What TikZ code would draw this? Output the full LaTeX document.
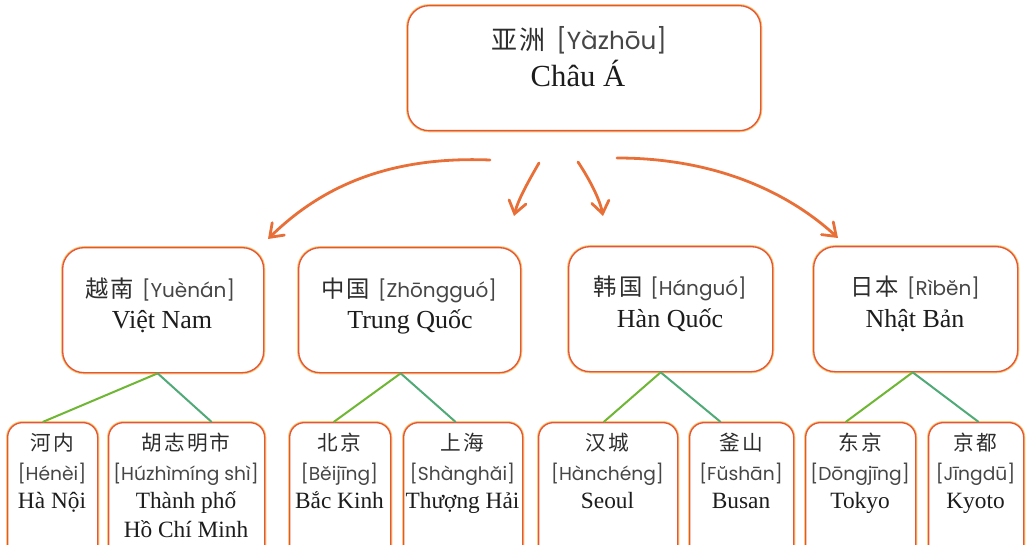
\documentclass[tikz,border=0pt]{standalone}
\usepackage{fontspec}
\setmainfont{Liberation Serif}
\newfontfamily\cjk[LetterSpace=10]{Noto Sans CJK SC}
\newfontfamily\pin{Poppins}
\usetikzlibrary{arrows.meta,calc}
\definecolor{boxline}{RGB}{226,86,58}
\definecolor{boxglow}{RGB}{252,200,110}
\definecolor{arrowc}{RGB}{232,112,56}
\definecolor{lgreen}{RGB}{110,182,52}
\definecolor{lteal}{RGB}{80,170,120}
\definecolor{txt}{RGB}{28,28,28}
\definecolor{zhcol}{RGB}{45,45,45}
\definecolor{pincol}{RGB}{70,70,70}
\newcommand\mybox[6]{\node[#6, minimum width=#4*0.75pt, minimum height=#5*0.75pt] (#1) at (#2,#3) {};}
\newcommand\ZhA[1]{{\color{zhcol}\cjk\fontsize{19.5}{23}\selectfont #1}}
\newcommand\PyA[1]{{\color{pincol}\pin\fontsize{18.5}{22}\selectfont #1}}
\newcommand\ZhB[1]{{\color{zhcol}\cjk\fontsize{17.5}{21}\selectfont #1}}
\newcommand\PyB[1]{{\color{pincol}\pin\fontsize{15}{18}\selectfont #1}}
\newcommand\ZhC[1]{{\color{zhcol}\cjk\fontsize{15.5}{19}\selectfont #1}}
\newcommand\PyC[1]{{\color{pincol}\pin\fontsize{14}{17}\selectfont #1}}
\begin{document}
\begin{tikzpicture}[x=0.75pt,y=-0.75pt,
  boxbase/.style={draw=boxline, line width=1pt, fill=white, inner sep=0pt, anchor=north west,
    preaction={draw=boxglow, line width=2.4pt}},
  bigbox/.style={boxbase, rounded corners=16pt},
  smallbox/.style={boxbase, rounded corners=11pt},
  lbl/.style={anchor=base, inner sep=0pt, text=txt},
  vnA/.style={lbl, font=\fontsize{23}{27}\selectfont},
  vnB/.style={lbl, font=\fontsize{19.5}{23}\selectfont},
  vnC/.style={lbl, font=\fontsize{17.5}{21}\selectfont},
  arr/.style={draw=arrowc, line width=2.1pt, line cap=round,
    -{Straight Barb[length=9pt,width=13pt,line cap=round]}},
  gl/.style={draw=lgreen, line width=1.5pt},
  tl/.style={draw=lteal, line width=1.5pt}]
\useasboundingbox (0,0) rectangle (1028,545);
\clip (0,0) rectangle (1028,545);
\fill[white] (0,0) rectangle (1028,545);

% boxes
\mybox{asia}{407}{5}{353}{125}{bigbox}
\mybox{vn}{62}{247}{201}{125}{bigbox}
\mybox{cn}{298}{247}{222}{125}{bigbox}
\mybox{kr}{568}{246}{204}{125}{bigbox}
\mybox{jp}{813}{246}{204}{125}{bigbox}
\mybox{hn}{7}{422}{90}{140}{smallbox}
\mybox{hcm}{108}{422}{156}{140}{smallbox}
\mybox{bj}{289}{422}{101}{140}{smallbox}
\mybox{sh}{403}{422}{119}{140}{smallbox}
\mybox{se}{538}{422}{139}{140}{smallbox}
\mybox{bs}{689}{422}{104}{140}{smallbox}
\mybox{tk}{805}{422}{110}{140}{smallbox}
\mybox{ky}{928}{422}{95}{140}{smallbox}

% top texts
\node[lbl] (asiaZ) at (579,50) {\ZhA{亚洲}\hspace{8pt}\PyA{[Yàzhōu]}};
\node[vnA] (asiaV) at (578,87) {Châu Á};

% country texts
\node[lbl] (vnZ) at (160,297) {\ZhB{越南}\hspace{6pt}\PyB{[Yuènán]}};
\node[vnB] (vnV) at (162,329) {Việt Nam};
\node[lbl] (cnZ) at (409,297) {\ZhB{中国}\hspace{6pt}\PyB{[Zhōngguó]}};
\node[vnB] (cnV) at (410,329) {Trung Quốc};
\node[lbl] (krZ) at (670,296) {\ZhB{韩国}\hspace{6pt}\PyB{[Hánguó]}};
\node[vnB] (krV) at (670,328) {Hàn Quốc};
\node[lbl] (jpZ) at (915,296) {\ZhB{日本}\hspace{6pt}\PyB{[Rìbĕn]}};
\node[vnB] (jpV) at (915,328) {Nhật Bản};

% city texts
\foreach \n/\x/\z/\p/\v in {hnT/52/河内/[Hénèi]/Hà Nội,
    hcmT/186/胡志明市/[Húzhìmíng shì]/Thành phố,
    bjT/339.5/北京/[Bĕijīng]/Bắc Kinh,
    shT/462.5/上海/[Shànghăi]/Thượng Hải,
    seT/607.5/汉城/[Hànchéng]/Seoul,
    bsT/741/釜山/[Fŭshān]/Busan,
    tkT/860/东京/[Dōngjīng]/Tokyo,
    kyT/975.5/京都/[Jīngdū]/Kyoto}{
  \node[lbl] (\n Z) at (\x,450) {\ZhC{\z}};
  \node[lbl] (\n P) at (\x,480) {\PyC{\p}};
  \node[vnC] (\n V) at (\x,508) {\v};
}
\node[vnC] (hcmV2) at (186,537) {Hồ Chí Minh};

% arrows
\coordinate (a1s) at (490,160);
\coordinate (a1e) at (268,239);
\coordinate (a2s) at (539,163);
\coordinate (a2e) at (514,216);
\coordinate (a3s) at (578,162);
\coordinate (a3e) at (603,216);
\coordinate (a4s) at (617,158);
\coordinate (a4e) at (838,238);
\draw[arr] (a1s) .. controls (390,156) and (322,186) .. (a1e);
\draw[arr] (a2s) .. controls (528,182) and (518,200) .. (a2e);
\draw[arr] (a3s) .. controls (590,180) and (600,200) .. (a3e);
\draw[arr] (a4s) .. controls (715,158) and (788,192) .. (a4e);

% tree lines
\draw[gl] ($(vn.south)+(-5.5,0)$) -- ($(hn.north)+(-10,0)$);
\draw[tl] ($(vn.south)+(-5.5,0)$) -- ($(hcm.north)+(25,0)$);
\draw[gl] ($(cn.south)+(-9,0)$) -- ($(bj.north)+(-6.5,0)$);
\draw[tl] ($(cn.south)+(-9,0)$) -- ($(sh.north)+(-7.5,0)$);
\draw[gl] ($(kr.south)+(-10,0)$) -- ($(se.north)+(-4.5,0)$);
\draw[tl] ($(kr.south)+(-10,0)$) -- ($(bs.north)+(-21,0)$);
\draw[gl] ($(jp.south)+(-3,0)$) -- ($(tk.north)+(-15,0)$);
\draw[tl] ($(jp.south)+(-3,0)$) -- ($(ky.north)+(2.5,0)$);
\end{tikzpicture}
\end{document}
